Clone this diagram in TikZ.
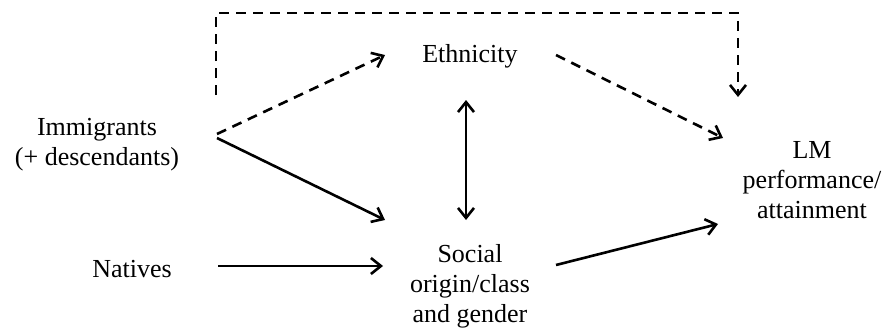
\documentclass[tikz,border=0pt]{standalone}
\usepackage{fontspec}
\setmainfont{Liberation Serif}
\usetikzlibrary{arrows.meta}
\begin{document}
\begin{tikzpicture}[x=1pt,y=-1pt,
  lbl/.style={anchor=base,align=center,inner sep=0pt,font=\fontsize{26}{30}\selectfont},
  tipb/.tip={Straight Barb[length=10pt,width=16pt,line width=2.6pt]},
  conn/.style={line width=2.6pt,-tipb},
  dconn/.style={conn,dash pattern=on 10pt off 7pt},
  both/.style={line width=2.6pt,tipb-tipb}]
\useasboundingbox (0,0) rectangle (885,329);
% base anchor of a multi-line node = baseline of its last line
\node[lbl] (imm) at (97,165) {Immigrants\\(+ descendants)};
\node[lbl] (nat) at (132,277) {Natives};
\node[lbl] (eth) at (470,63) {Ethnicity};
\node[lbl] (soc) at (470,322) {Social\\origin/class\\and gender};
\node[lbl] (lm) at (812,218) {LM\\performance/\\attainment};
% top dashed bracket
\draw[dconn] ([shift={(119,-70)}]imm.base) -- ++(0,-82) -| ([shift={(-74,-121)}]lm.base);
% immigrants -> ethnicity (dashed)
\draw[dconn] ([shift={(120,-31)}]imm.base) -- ([shift={(-85,-8)}]eth.base);
% ethnicity -> LM (dashed)
\draw[dconn] ([shift={(86,-8)}]eth.base) -- ([shift={(-89,-80)}]lm.base);
% immigrants -> social
\draw[conn] ([shift={(120,-27)}]imm.base) -- ([shift={(-85,-102)}]soc.base);
% natives -> social
\draw[conn] ([shift={(86,-11)}]nat.base) -- ([shift={(-87,-56)}]soc.base);
% ethnicity <-> social
\draw[both] ([shift={(-4,37)}]eth.base) -- ([shift={(-4,-102)}]soc.base);
% social -> LM
\draw[conn] ([shift={(86,-57)}]soc.base) -- ([shift={(-94,6)}]lm.base);
\end{tikzpicture}
\end{document}
